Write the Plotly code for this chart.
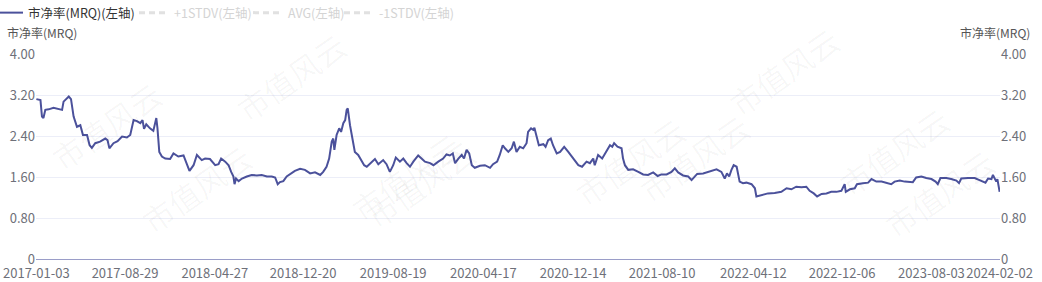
import plotly.graph_objects as go

# ---- data ----
dates = [
    "2017-01-03", "2017-01-14", "2017-01-18", "2017-01-22", "2017-01-27", "2017-02-05", "2017-02-18",
    "2017-02-27", "2017-03-13", "2017-03-17", "2017-03-31", "2017-04-06", "2017-04-13", "2017-04-22",
    "2017-05-01", "2017-05-08", "2017-05-19", "2017-05-26", "2017-06-01", "2017-06-10", "2017-06-23",
    "2017-07-07", "2017-07-13", "2017-07-18", "2017-07-29", "2017-08-09", "2017-08-21", "2017-09-03",
    "2017-09-12", "2017-09-21", "2017-09-30", "2017-10-09", "2017-10-15", "2017-10-19", "2017-10-25",
    "2017-11-04", "2017-11-13", "2017-11-21", "2017-11-24", "2017-11-29", "2017-12-06", "2017-12-15",
    "2017-12-28", "2018-01-06", "2018-01-19", "2018-02-02", "2018-02-11", "2018-02-18", "2018-03-01",
    "2018-03-10", "2018-03-23", "2018-04-01", "2018-04-14", "2018-04-28", "2018-05-07", "2018-05-14",
    "2018-05-25", "2018-06-03", "2018-06-10", "2018-06-16", "2018-06-19", "2018-06-23", "2018-06-30",
    "2018-07-09", "2018-07-22", "2018-08-04", "2018-08-18", "2018-08-31", "2018-09-14", "2018-09-27",
    "2018-10-06", "2018-10-13", "2018-10-19", "2018-10-28", "2018-11-06", "2018-11-20", "2018-11-28",
    "2018-12-12", "2018-12-25", "2019-01-08", "2019-01-21", "2019-02-04", "2019-02-12", "2019-02-21",
    "2019-02-28", "2019-03-07", "2019-03-11", "2019-03-14", "2019-03-20", "2019-03-27", "2019-04-01",
    "2019-04-07", "2019-04-12", "2019-04-16", "2019-04-19", "2019-04-25", "2019-05-01", "2019-05-08",
    "2019-05-17", "2019-05-26", "2019-06-02", "2019-06-09", "2019-06-18", "2019-07-01", "2019-07-10",
    "2019-07-23", "2019-08-01", "2019-08-10", "2019-08-19", "2019-08-26", "2019-09-06", "2019-09-15",
    "2019-09-24", "2019-10-03", "2019-10-12", "2019-10-25", "2019-11-03", "2019-11-12", "2019-11-26",
    "2019-12-05", "2019-12-18", "2019-12-31", "2020-01-09", "2020-01-18", "2020-01-26", "2020-02-01",
    "2020-02-10", "2020-02-19", "2020-02-25", "2020-03-03", "2020-03-10", "2020-03-17", "2020-03-25",
    "2020-04-08", "2020-04-21", "2020-05-05", "2020-05-13", "2020-05-24", "2020-05-31", "2020-06-08",
    "2020-06-14", "2020-06-23", "2020-07-02", "2020-07-08", "2020-07-15", "2020-07-24", "2020-08-02",
    "2020-08-11", "2020-08-15", "2020-08-23", "2020-08-29", "2020-09-01", "2020-09-07", "2020-09-13",
    "2020-09-25", "2020-10-01", "2020-10-08", "2020-10-15", "2020-10-21", "2020-10-31", "2020-11-09",
    "2020-11-20", "2020-12-01", "2020-12-14", "2020-12-28", "2021-01-07", "2021-01-19", "2021-01-28",
    "2021-02-06", "2021-02-10", "2021-02-19", "2021-03-02", "2021-03-11", "2021-03-23", "2021-03-29",
    "2021-04-03", "2021-04-12", "2021-04-23", "2021-04-27", "2021-05-02", "2021-05-11", "2021-05-24",
    "2021-06-07", "2021-06-20", "2021-07-03", "2021-07-17", "2021-07-29", "2021-08-08", "2021-08-22",
    "2021-09-04", "2021-09-13", "2021-09-22", "2021-10-05", "2021-10-19", "2021-10-28", "2021-11-06",
    "2021-11-12", "2021-11-28", "2021-12-11", "2021-12-25", "2022-01-03", "2022-01-16", "2022-01-25",
    "2022-01-31", "2022-02-06", "2022-02-12", "2022-02-18", "2022-02-26", "2022-03-02", "2022-03-06",
    "2022-03-15", "2022-03-24", "2022-04-07", "2022-04-16", "2022-04-20", "2022-05-04", "2022-05-21",
    "2022-06-08", "2022-06-26", "2022-07-10", "2022-07-23", "2022-08-05", "2022-08-19", "2022-09-01",
    "2022-09-10", "2022-09-21", "2022-09-30", "2022-10-12", "2022-10-25", "2022-11-07", "2022-11-21",
    "2022-12-04", "2022-12-13", "2022-12-16", "2022-12-27", "2023-01-09", "2023-01-15", "2023-01-31",
    "2023-02-14", "2023-02-23", "2023-03-08", "2023-03-22", "2023-04-04", "2023-04-17", "2023-04-26",
    "2023-05-10", "2023-05-23", "2023-06-01", "2023-06-14", "2023-06-23", "2023-07-07", "2023-07-20",
    "2023-08-03", "2023-08-14", "2023-08-20", "2023-08-27", "2023-09-12", "2023-09-25", "2023-10-09",
    "2023-10-16", "2023-10-22", "2023-11-09", "2023-11-27", "2023-12-10", "2023-12-21", "2023-12-26",
    "2024-01-02", "2024-01-11", "2024-01-15", "2024-01-20", "2024-01-24", "2024-01-27", "2024-02-02",
]
pb_mrq = [
    3.12, 3.10, 2.78, 2.75, 2.91, 2.92, 2.95,
    2.93, 2.91, 3.07, 3.17, 3.12, 2.78, 2.58,
    2.61, 2.42, 2.42, 2.22, 2.17, 2.26, 2.29,
    2.35, 2.32, 2.16, 2.26, 2.30, 2.39, 2.37,
    2.42, 2.71, 2.69, 2.65, 2.71, 2.54, 2.63,
    2.55, 2.50, 2.75, 2.56, 2.09, 2.00, 1.96,
    1.95, 2.06, 2.00, 2.02, 1.83, 1.72, 1.83,
    2.03, 1.93, 1.96, 1.95, 1.83, 1.85, 1.96,
    1.90, 1.83, 1.70, 1.61, 1.46, 1.57, 1.52,
    1.57, 1.61, 1.64, 1.63, 1.64, 1.61, 1.61,
    1.59, 1.46, 1.50, 1.52, 1.61, 1.67, 1.72,
    1.76, 1.74, 1.67, 1.69, 1.64, 1.70, 1.80,
    1.96, 2.29, 2.35, 2.13, 2.42, 2.55, 2.48,
    2.65, 2.71, 2.91, 2.94, 2.61, 2.35, 2.09,
    2.03, 1.90, 1.83, 1.80, 1.87, 1.95, 1.85,
    1.93, 1.85, 1.70, 1.83, 1.98, 1.90, 1.96,
    1.87, 1.80, 1.90, 2.02, 1.96, 1.90, 1.87,
    1.83, 1.90, 1.96, 2.04, 2.02, 2.06, 1.87,
    1.96, 2.03, 1.96, 2.13, 2.06, 1.83, 1.78,
    1.82, 1.83, 1.78, 1.85, 1.90, 2.03, 2.22,
    2.16, 2.09, 2.16, 2.29, 2.09, 2.19, 2.16,
    2.26, 2.48, 2.55, 2.52, 2.56, 2.39, 2.22,
    2.24, 2.19, 2.32, 2.35, 2.22, 2.06, 2.09,
    2.19, 2.09, 1.96, 1.83, 1.80, 1.90, 1.87,
    1.96, 1.83, 2.03, 1.96, 2.06, 2.22, 2.19,
    2.26, 2.19, 2.16, 1.96, 1.83, 1.74, 1.75,
    1.70, 1.65, 1.64, 1.69, 1.62, 1.65, 1.65,
    1.70, 1.77, 1.69, 1.63, 1.61, 1.54, 1.61,
    1.66, 1.67, 1.70, 1.72, 1.75, 1.70, 1.57,
    1.67, 1.61, 1.74, 1.83, 1.80, 1.64, 1.51,
    1.48, 1.49, 1.46, 1.38, 1.22, 1.25, 1.28,
    1.29, 1.31, 1.38, 1.36, 1.41, 1.40, 1.41,
    1.33, 1.28, 1.22, 1.27, 1.28, 1.31, 1.31,
    1.33, 1.46, 1.31, 1.36, 1.38, 1.46, 1.48,
    1.49, 1.56, 1.51, 1.51, 1.49, 1.46, 1.51,
    1.53, 1.51, 1.51, 1.50, 1.59, 1.61, 1.58,
    1.56, 1.51, 1.46, 1.58, 1.58, 1.56, 1.53,
    1.48, 1.57, 1.58, 1.58, 1.54, 1.51, 1.49,
    1.57, 1.56, 1.64, 1.57, 1.51, 1.56, 1.31,
]
x_tick_dates = ["2017-01-03", "2017-08-29", "2018-04-27", "2018-12-20", "2019-08-19", "2020-04-17",
                "2020-12-14", "2021-08-10", "2022-04-12", "2022-12-06", "2023-08-03", "2024-02-02"]
y_tick_vals = [0, 0.8, 1.6, 2.4, 3.2, 4.0]
y_tick_text = ["0", "0.80", "1.60", "2.40", "3.20", "4.00"]

series_name = "市净率(MRQ)(左轴)"
hidden_names = ["+1STDV(左轴)", "AVG(左轴)", "-1STDV(左轴)"]
axis_title = "市净率(MRQ)"
watermark = "市值风云"

# ---- styling ----
FONT = "Noto Sans CJK SC, Noto Sans, sans-serif"
LINE_COLOR = "#4b519b"
GRID_COLOR = "#eceef8"
TICK_COLOR = "#6e7079"
W, H = 1042, 282
ML, MR, MT, MB = 36, 42, 54, 23
PW, PH = W - ML - MR, H - MT - MB

fig = go.Figure()
fig.add_trace(go.Scatter(
    x=dates, y=pb_mrq, mode="lines", name=series_name,
    line=dict(color=LINE_COLOR, width=2), legend="legend", showlegend=True,
))
legend_keys = ["legend2", "legend3", "legend4"]
for nm, lg in zip(hidden_names, legend_keys):
    fig.add_trace(go.Scatter(
        x=[dates[0], dates[-1]], y=[None, None], mode="lines", name=nm, visible="legendonly",
        showlegend=True, line=dict(color="#c4c4c4", width=3, dash="6px,4px"), legend=lg,
    ))

# axis titles (horizontal, at the top corners)
fig.add_annotation(text=axis_title, xref="paper", yref="paper", x=-(ML - 5) / PW, y=1 + (MT - 33) / PH,
                   xanchor="left", yanchor="middle", showarrow=False,
                   font=dict(size=12, color="#555555", family=FONT))
fig.add_annotation(text=axis_title, xref="paper", yref="paper", x=1 + (MR - 10) / PW, y=1 + (MT - 33) / PH,
                   xanchor="right", yanchor="middle", showarrow=False,
                   font=dict(size=12, color="#555555", family=FONT))

# faint watermark
wm_pos = [(40, 125), (340, 120), (630, 105), (960, 95),
          (130, 245), (420, 240), (760, 215), (1005, 250),
          (225, 20), (850, 15)]
for px, py in wm_pos:
    fig.add_annotation(text=watermark, xref="paper", yref="paper",
                       x=(px - ML) / PW, y=(H - MB - py) / PH, showarrow=False,
                       textangle=-35, font=dict(size=31, color="rgba(0,0,0,0.035)", family=FONT))

# legend entries placed where the reference shows them (text starts 40px after entry x)
legend_text_px = [28, 174, 288, 379]


def legend_box(text_px, color):
    return dict(orientation="h", xref="paper", yref="paper",
                x=(text_px - 40 - ML) / PW, y=(H - MB + 2) / PH,
                xanchor="left", yanchor="top", itemwidth=30,
                font=dict(size=12.5, color=color, family=FONT), bgcolor="rgba(0,0,0,0)")


fig.update_layout(
    width=W, height=H,
    margin=dict(l=ML, r=MR, t=MT, b=MB, autoexpand=False),
    paper_bgcolor="white", plot_bgcolor="white",
    font=dict(family=FONT, size=13, color=TICK_COLOR),
    showlegend=True,
    legend=legend_box(legend_text_px[0], "#333333"),
    legend2=legend_box(legend_text_px[1], "#aaaaaa"),
    legend3=legend_box(legend_text_px[2], "#aaaaaa"),
    legend4=legend_box(legend_text_px[3], "#aaaaaa"),
    xaxis=dict(type="date", range=["2017-01-02", "2024-02-03"],
               tickvals=x_tick_dates, ticktext=x_tick_dates, tickangle=0, automargin=False,
               ticklabelstandoff=2,
               showgrid=False, zeroline=False, showline=True, linecolor="#9a9dc8", linewidth=1,
               ticks="", tickfont=dict(size=13, color=TICK_COLOR, family=FONT)),
    yaxis=dict(range=[0, 4], tickvals=y_tick_vals, ticktext=y_tick_text, automargin=False,
               showgrid=True, gridcolor=GRID_COLOR, gridwidth=1, zeroline=False,
               showline=False, ticks="", tickfont=dict(size=13, color=TICK_COLOR, family=FONT)),
    yaxis2=dict(range=[0, 4], tickvals=y_tick_vals, ticktext=y_tick_text, overlaying="y",
                side="right", showgrid=False, zeroline=False, showline=False, ticks="",
                automargin=False, tickfont=dict(size=13, color=TICK_COLOR, family=FONT)),
)
# hidden helper so the right axis is drawn
fig.add_trace(go.Scatter(x=[dates[0]], y=[None], yaxis="y2", showlegend=False, hoverinfo="skip"))

fig.write_html("out.html")
